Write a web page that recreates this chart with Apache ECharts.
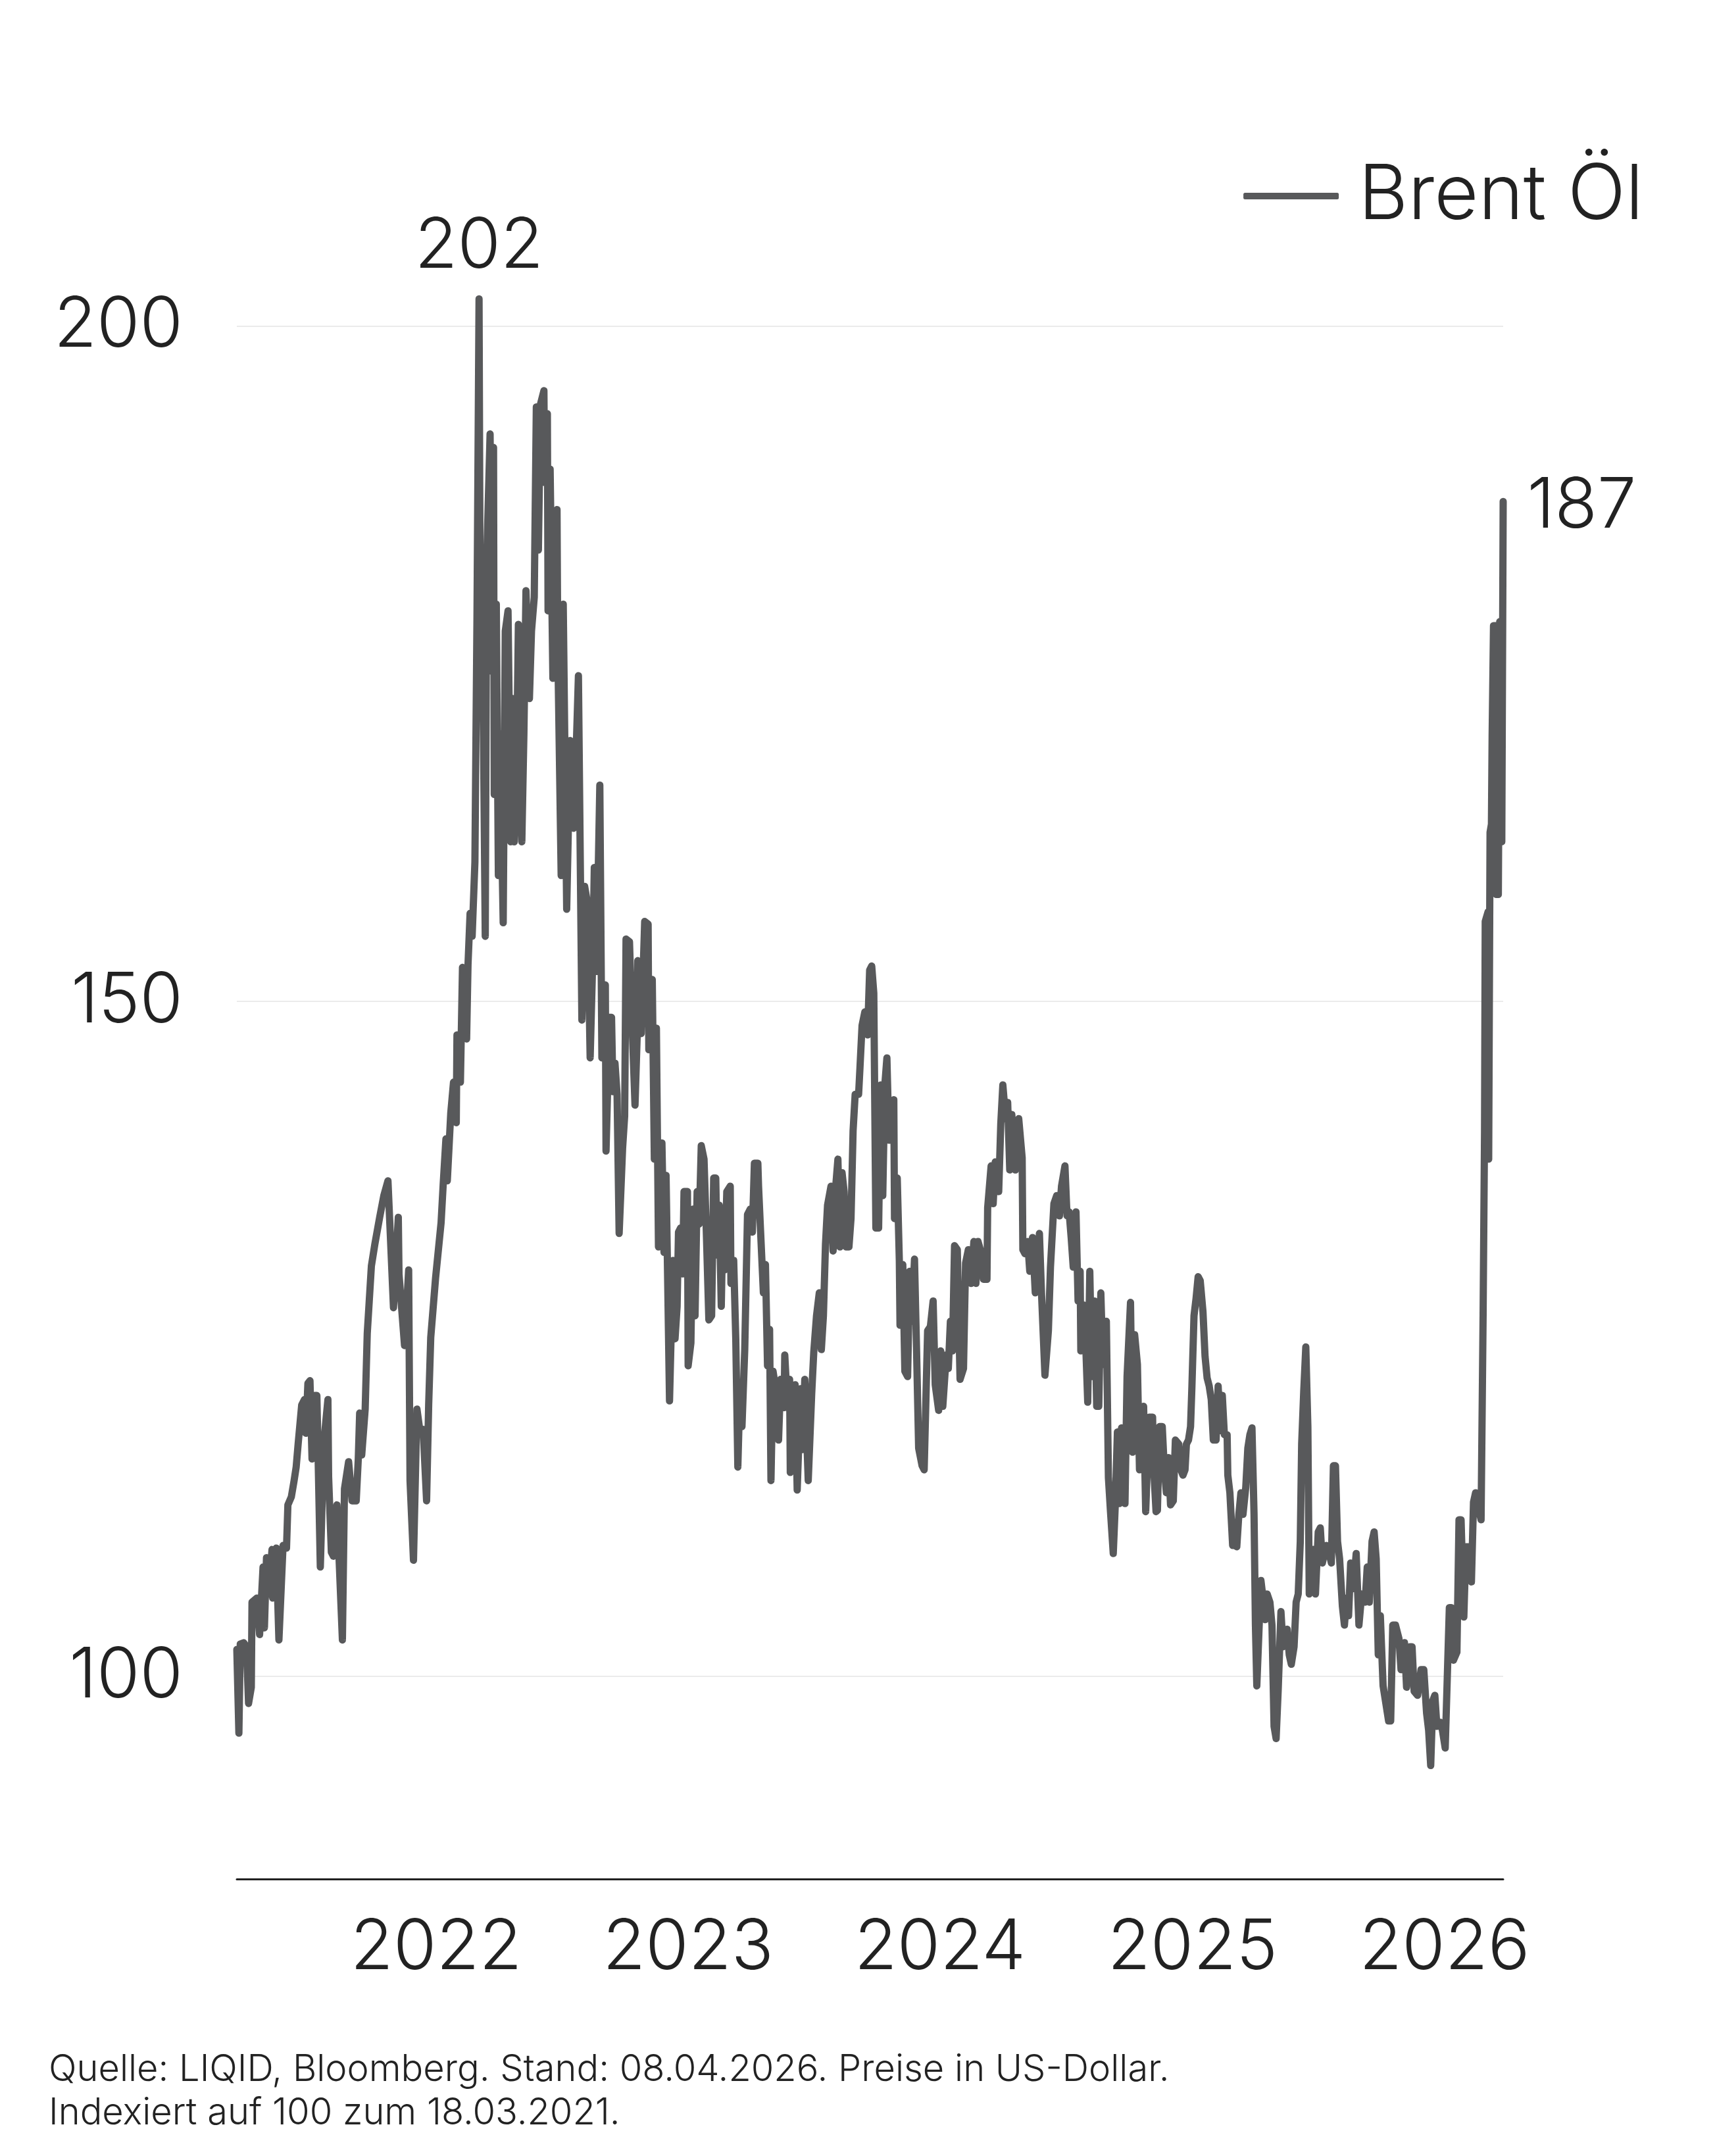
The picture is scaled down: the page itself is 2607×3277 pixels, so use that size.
<!DOCTYPE html>
<html>
<head>
<meta charset="utf-8">
<title>Brent Öl</title>
<script src="https://cdn.jsdelivr.net/npm/echarts@6/dist/echarts.min.js"></script>
<style>
  html, body { margin: 0; padding: 0; background: #fff; }
  #chart { width: 2607px; height: 3277px; }
</style>
</head>
<body>
<div id="chart"></div>
<script>
// Brent Öl, indexed to 100 on 18.03.2021
// days = calendar days after the start date
const startDate = new Date(2021, 2, 18).getTime()
const dayMs = 86400000

const days = [
  0, 3, 5, 10, 14, 17, 21, 22, 29, 33, 38, 40, 43, 46, 51, 52, 57, 61, 67, 72,
  74, 79, 83, 86, 89, 94, 98, 100, 103, 106, 109, 113, 116, 121, 126, 132, 133, 137, 140, 145,
  153, 156, 162, 167, 173, 176, 178, 181, 186, 189, 195, 200, 207, 213, 219, 222, 227, 234, 235, 243,
  249, 251, 256, 261, 265, 270, 275, 278, 281, 288, 296, 299, 303,
  305, 310, 314, 318, 319, 324, 327, 333, 335, 338, 341, 345, 348, 351, 353, 356, 360, 362, 367, 370,
  372, 373, 376, 379, 381, 386, 389, 393, 397, 400, 402, 405, 408, 413, 416, 419, 424, 427, 431, 434,
  437, 440, 445, 446, 450, 451, 454, 458, 461, 464, 465, 470, 473, 478, 483, 488, 491, 495,
  500, 504, 508, 512, 516, 518, 521, 526, 529, 534, 535, 540, 543, 545, 548, 551, 554, 559, 562, 564,
  569, 572, 577, 580, 581, 586, 591, 596, 597, 602, 605, 608, 611, 616, 619, 622,
  627, 632, 635, 638, 640, 643, 646, 648, 653, 654, 658, 661, 664, 667, 670, 673, 677, 680, 684, 688,
  691, 694, 696, 699, 702, 704, 707, 710, 715, 716, 720, 723, 726, 729, 732, 736, 740, 744, 747, 750,
  755, 756, 759, 763, 766, 769, 772, 774, 777, 782, 785, 788, 793, 794, 798, 801, 802, 805, 809, 812,
  817, 820, 823, 828, 833, 836, 840, 844, 847, 850, 853, 856, 861, 864, 868, 871, 874, 877, 880, 883,
  887, 890, 893, 896, 901, 903, 906, 910, 914, 917, 920, 923, 926, 930, 933, 936, 939, 942, 945, 949,
  952, 953, 957, 960, 961, 965, 968,
  972, 975, 978, 982, 985, 988, 993, 996, 1001, 1005, 1009, 1012, 1017, 1020, 1023, 1028, 1031, 1034, 1037, 1040,
  1044, 1048, 1053, 1056, 1060, 1064, 1068, 1071, 1074, 1079, 1082, 1087, 1088, 1093, 1096, 1099, 1104, 1107, 1110, 1114,
  1117, 1120, 1123, 1128, 1133, 1138, 1139, 1142, 1146, 1149, 1153, 1157, 1160, 1163, 1166, 1171, 1176, 1179, 1184, 1188,
  1192, 1195, 1200, 1203, 1206, 1209, 1212, 1216, 1219, 1222, 1223, 1227, 1230, 1233, 1236, 1239, 1243, 1246, 1249, 1252,
  1255, 1260, 1263, 1266, 1270, 1273, 1276, 1279, 1282, 1287, 1290, 1295, 1298, 1301, 1305, 1308, 1311, 1314, 1317, 1322,
  1327, 1328, 1332,
  1334, 1337, 1341, 1344, 1347, 1350, 1353, 1357, 1360, 1365, 1368, 1371, 1374, 1376, 1379, 1382, 1384, 1387, 1390, 1393,
  1396, 1400, 1403, 1406, 1409, 1412, 1415, 1419, 1422, 1425, 1428, 1431, 1435, 1436, 1439, 1443, 1446, 1449, 1452, 1455,
  1458, 1462, 1465, 1468, 1471, 1474, 1476, 1478, 1481, 1484, 1487, 1490, 1493, 1497, 1500, 1503, 1506, 1509, 1513, 1516,
  1519, 1522, 1525, 1528, 1532, 1535, 1538, 1541, 1543, 1546, 1549, 1552, 1554, 1557, 1560, 1563, 1567, 1570, 1573, 1576,
  1579, 1583, 1586, 1589, 1592, 1595, 1598, 1602, 1605, 1608, 1611, 1614, 1618, 1622, 1626, 1630, 1635, 1638, 1641, 1645,
  1648, 1651, 1654, 1657, 1661, 1665, 1669, 1672,
  1675, 1679, 1684, 1687, 1692, 1695, 1700, 1703, 1706, 1711, 1716, 1720, 1724, 1727, 1730, 1733, 1736, 1739, 1744, 1747,
  1751, 1754, 1757, 1760, 1763, 1768, 1771, 1774, 1778, 1781, 1784, 1789, 1792, 1795, 1800, 1803, 1806, 1808, 1809, 1813,
  1814, 1816, 1818, 1819, 1821, 1824, 1825, 1828, 1830, 1833, 1835
]

const brent = [
  102.0, 95.8, 102.4, 102.5, 102.2, 98.0, 99.2, 105.5, 105.8, 103.1, 108.1, 103.6, 108.8, 106.1, 109.4, 105.8, 109.5, 102.7, 109.7, 109.5,
  112.7, 113.3, 114.5, 115.5, 117.3, 120.1, 120.5, 118.0, 121.7, 121.9, 116.1, 120.8, 120.8, 108.1, 117.3, 120.5, 114.8, 109.2, 108.9, 112.7,
  102.7, 113.9, 115.9, 113.0, 113.0, 116.1, 119.5, 116.4, 119.8, 125.4, 130.4, 132.0, 134.0, 135.6, 136.7, 133.2, 127.3, 134.0, 129.8, 124.5,
  130.1, 114.5, 108.6, 119.8, 118.3, 118.3, 113.0, 120.1, 125.1, 129.5, 133.6, 136.4, 139.8,
  136.7, 141.7, 144.0, 141.0, 147.5, 144.0, 152.5, 147.2, 152.7, 156.5, 154.8, 160.3, 178.4, 202.0, 172.9, 177.9, 154.8, 182.4, 192.0, 174.4,
  191.0, 165.3, 179.4, 159.3, 169.8, 155.8, 177.4, 178.9, 161.8, 172.4, 161.8, 165.8, 177.9, 161.8, 169.8, 180.4, 172.4, 177.4, 179.9, 194.0,
  183.4, 194.2, 195.2, 188.4, 193.5, 178.9, 189.4, 173.9, 181.4, 186.4, 176.4, 159.3, 179.4, 156.8, 169.3, 162.8, 167.3, 174.1,
  148.6, 158.5, 157.3, 145.8, 153.6, 159.9, 152.2, 166.0, 145.8, 151.2, 138.9, 148.8, 148.8, 143.3, 145.4, 143.1, 132.8, 139.1, 141.5, 154.6,
  154.4, 149.4, 142.3, 147.2, 153.0, 147.6, 155.9, 155.7, 146.4, 151.6, 138.3, 148.0, 131.8, 139.5, 131.4, 137.1,
  120.4, 130.8, 125.0, 127.4, 132.9, 133.2, 129.8, 135.9, 135.9, 123.0, 124.7, 134.6, 126.7, 135.9, 133.5, 139.3, 138.3, 133.5, 126.4, 126.7,
  136.9, 136.9, 131.2, 134.9, 127.4, 132.9, 130.1, 135.9, 136.3, 129.1, 130.8, 125.0, 115.5, 121.3, 118.5, 124.2, 134.2, 134.6, 132.9, 138.0,
  138.0, 136.3, 132.9, 128.4, 130.5, 123.0, 125.7, 114.5, 122.6, 120.9, 117.5, 122.0, 119.9, 123.8, 119.9, 122.0, 115.1, 120.2, 121.6, 113.8,
  121.3, 116.8, 122.0, 114.5, 120.9, 124.0, 126.7, 128.4, 124.2, 126.7, 132.0, 134.9, 136.3, 131.5, 136.4, 138.3, 131.8, 137.3, 135.9, 131.8,
  131.8, 133.9, 140.4, 143.1, 143.1, 145.1, 148.2, 149.2, 147.5, 152.3, 152.6, 150.6, 133.2, 133.2, 143.8, 135.6, 143.8, 145.8, 139.7, 142.1,
  142.7, 133.9, 136.9, 130.8, 126.0, 130.5, 122.6,
  122.2, 130.0, 126.3, 130.9, 124.1, 116.9, 115.6, 115.3, 125.6, 125.9, 127.8, 121.6, 119.7, 124.1, 120.0, 123.8, 122.8, 126.3, 124.1, 131.9,
  131.6, 122.0, 122.8, 130.6, 131.6, 129.1, 132.2, 129.1, 132.2, 131.3, 129.4, 129.4, 134.7, 137.8, 135.0, 138.1, 135.9, 140.9, 143.8, 141.3,
  142.5, 137.5, 141.6, 137.5, 141.3, 138.4, 131.6, 131.3, 132.2, 130.0, 132.5, 128.4, 128.8, 132.8, 128.4, 122.3, 125.6, 130.3, 135.0, 135.6,
  134.1, 136.3, 137.8, 134.1, 134.4, 132.5, 130.3, 134.4, 127.8, 130.0, 124.1, 127.5, 124.7, 120.3, 130.0, 122.2, 127.8, 120.0, 120.0, 128.4,
  123.1, 126.3, 114.7, 112.2, 109.1, 112.8, 118.1, 112.8, 118.4, 112.8, 122.2, 127.7, 116.6, 125.3, 123.1, 115.3, 116.9, 120.0, 112.2, 119.2,
  119.2, 116.0, 112.2,
  112.3, 118.5, 118.5, 115.3, 113.6, 116.2, 112.7, 113.0, 117.5, 117.2, 115.3, 114.9, 115.3, 117.2, 117.5, 118.5, 121.5, 126.7, 128.0, 129.6,
  129.3, 127.0, 123.7, 122.1, 121.5, 120.5, 117.5, 117.5, 121.5, 118.2, 120.8, 117.9, 117.9, 114.9, 113.6, 109.7, 109.7, 109.6, 112.0, 113.6,
  112.0, 114.0, 116.9, 117.9, 118.4, 112.0, 103.8, 99.3, 103.2, 107.1, 105.8, 104.2, 106.1, 105.5, 103.8, 96.3, 95.4, 99.0, 104.8, 102.2,
  102.9, 103.5, 101.6, 100.9, 102.2, 105.5, 106.1, 110.0, 117.2, 121.1, 124.4, 118.5, 106.1, 108.7, 109.4, 106.1, 110.7, 111.0, 108.4, 109.1,
  109.7, 109.1, 108.4, 115.6, 115.6, 110.0, 108.7, 105.2, 103.8, 105.8, 104.5, 108.4, 106.5, 109.1, 103.8, 106.1, 105.5, 108.1, 105.5, 110.0,
  110.7, 108.7, 101.6, 104.5, 99.3, 98.0, 96.7, 96.7,
  103.8, 103.8, 102.8, 100.5, 102.5, 99.2, 102.2, 102.2, 98.9, 98.6, 100.5, 100.5, 97.3, 96.0, 93.4, 98.2, 98.6, 96.3, 96.6, 96.0,
  94.7, 99.9, 105.1, 105.1, 101.2, 101.8, 111.6, 111.6, 104.4, 109.6, 109.6, 107.0, 112.9, 113.6, 112.3, 111.6, 127.2, 140.3, 155.9, 156.6,
  138.3, 162.5, 163.1, 169.6, 177.8, 177.8, 157.9, 157.9, 178.1, 161.8, 187.0
]

const yearTicks = [2022, 2023, 2024, 2025, 2026]
const yTicks = [100, 150, 200]
const seriesName = 'Brent Öl'
const sourceNote = 'Quelle: LIQID, Bloomberg. Stand: 08.04.2026. Preise in US-Dollar.\nIndexiert auf 100 zum 18.03.2021.'

// x axis counts days since 18.03.2021; year labels sit on 1 January
const dayOfYearStart = y => Math.round((new Date(y, 0, 1).getTime() - startDate) / dayMs)
const yearOfDay = d => new Date(startDate + d * dayMs + dayMs / 2).getFullYear()

const points = days.map((d, i) => [d, brent[i]])

let peakIdx = 0
brent.forEach((v, i) => { if (v > brent[peakIdx]) peakIdx = i })
const lastIdx = brent.length - 1

const textColor = '#222222'
const lineColor = '#58595b'
const fontFamily = 'Inter, Lato, "Noto Sans", sans-serif'
const fontWeight = 300
const labelSize = 106

const chart = echarts.init(document.getElementById('chart'), null, { renderer: 'canvas' })

const options = {
  animation: false,
  backgroundColor: '#ffffff',
  textStyle: { fontFamily: fontFamily, color: textColor, fontWeight: fontWeight },
  title: {
    text: sourceNote,
    left: 69,
    top: 3108,
    textStyle: {
      fontFamily: fontFamily,
      fontSize: 56,
      fontWeight: fontWeight,
      lineHeight: 66,
      color: textColor
    }
  },
  legend: {
    right: 104,
    top: 235,
    icon: 'roundRect',
    itemWidth: 145,
    itemHeight: 10,
    data: [seriesName],
    textStyle: {
      fontFamily: fontFamily,
      fontSize: 116,
      fontWeight: fontWeight,
      color: textColor,
      padding: [0, 0, 0, 25]
    }
  },
  grid: {
    left: 360,
    right: 322,
    top: 290,
    bottom: 421,
    containLabel: false
  },
  xAxis: {
    type: 'value',
    min: 0,
    max: 1835,
    axisLine: { show: true, lineStyle: { color: textColor, width: 3 } },
    axisTick: { show: false, customValues: yearTicks.map(dayOfYearStart) },
    splitLine: { show: false },
    axisLabel: {
      customValues: yearTicks.map(dayOfYearStart),
      formatter: v => String(yearOfDay(v)),
      fontSize: labelSize,
      fontWeight: fontWeight,
      color: textColor,
      margin: 52
    }
  },
  yAxis: {
    type: 'value',
    min: 85,
    max: 210,
    axisLine: { show: false },
    axisTick: { show: false, customValues: yTicks },
    splitLine: { show: true, lineStyle: { color: '#ebebeb', width: 2 } },
    axisLabel: {
      customValues: yTicks,
      fontSize: labelSize,
      fontWeight: fontWeight,
      color: textColor,
      margin: 82
    }
  },
  series: [
    {
      name: seriesName,
      type: 'line',
      data: points,
      showSymbol: false,
      symbol: 'none',
      color: lineColor,
      lineStyle: { color: lineColor, width: 11, join: 'round', cap: 'round' },
      markPoint: {
        symbol: 'circle',
        symbolSize: 1,
        itemStyle: { color: 'rgba(0,0,0,0)' },
        label: {
          show: true,
          formatter: '{c}',
          fontSize: labelSize,
          fontWeight: fontWeight,
          color: textColor,
          fontFamily: fontFamily
        },
        data: [
          {
            coord: points[peakIdx],
            value: Math.round(brent[peakIdx]),
            label: { position: 'top', distance: 26 }
          },
          {
            coord: points[lastIdx],
            value: Math.round(brent[lastIdx]),
            label: { position: 'right', distance: 36, offset: [0, 8] }
          }
        ]
      }
    }
  ]
}

chart.setOption(options, true)
</script>
</body>
</html>
